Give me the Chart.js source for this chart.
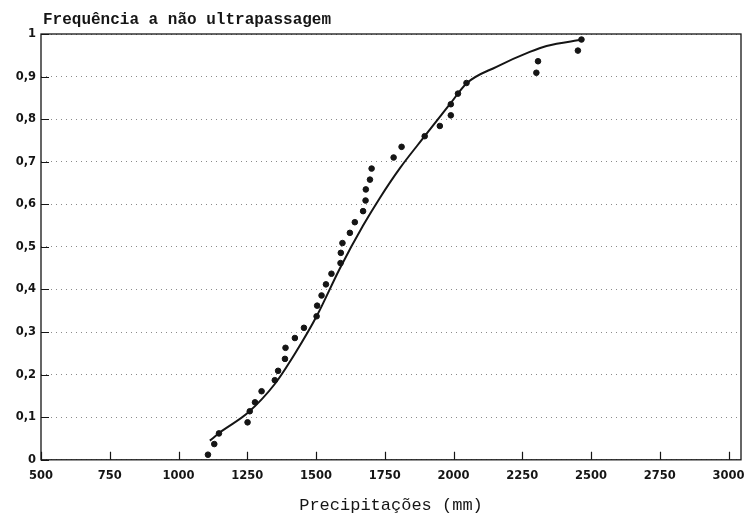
<!DOCTYPE html>
<html lang="pt">
<head>
    <meta charset="UTF-8">
    <title>Frequência a não ultrapassagem</title>
    <script src="https://cdn.jsdelivr.net/npm/chart.js"></script>
    <style>
        html, body { margin: 0; padding: 0; background: #fff; }
        #wrap { width: 750px; height: 521px; }
    </style>
</head>
<body>
    <div id="wrap"><canvas id="freqChart"></canvas></div>

    <script>
        // Observed annual precipitation (mm) and plotting frequency
        const obsPrecip = [1107, 1130, 1147, 1251, 1259, 1278, 1302, 1350, 1362, 1387,
                           1389, 1423, 1456, 1502, 1504, 1520, 1536, 1556, 1589, 1590,
                           1596, 1623, 1641, 1671, 1680, 1681, 1696, 1702, 1782, 1811,
                           1895, 1950, 1990, 1990, 2016, 2047, 2301, 2307, 2452, 2465];
        const obsFreq = [0.012, 0.037, 0.062, 0.088, 0.114, 0.135, 0.161, 0.187, 0.209, 0.237,
                         0.263, 0.286, 0.310, 0.337, 0.362, 0.386, 0.412, 0.437, 0.462, 0.486,
                         0.509, 0.533, 0.558, 0.584, 0.609, 0.635, 0.658, 0.684, 0.710, 0.735,
                         0.760, 0.784, 0.809, 0.835, 0.860, 0.885, 0.909, 0.936, 0.961, 0.987];

        // Fitted distribution curve
        const fitPrecip = [1114, 1150, 1253, 1350, 1423, 1502, 1587, 1671, 1732, 1805,
                           1895, 1990, 2047, 2156, 2277, 2338, 2470];
        const fitFreq = [0.045, 0.064, 0.111, 0.178, 0.249, 0.337, 0.450, 0.550, 0.615, 0.685,
                         0.760, 0.838, 0.884, 0.923, 0.958, 0.972, 0.987];

        // axis ticks
        const xTicks = [500, 750, 1000, 1250, 1500, 1750, 2000, 2250, 2500, 2750, 3000];
        const yTicks = [0, 0.1, 0.2, 0.3, 0.4, 0.5, 0.6, 0.7, 0.8, 0.9, 1];

        const chartTitle = 'Frequência a não ultrapassagem';
        const xTitle = 'Precipitações (mm)';

        const ink = '#151515';

        // frame, inward tick marks and the top-left title
        const frameAndTicks = {
            id: 'frameAndTicks',
            afterDraw(chart) {
                const { ctx, chartArea: a, scales: { x, y } } = chart;
                ctx.save();
                ctx.strokeStyle = ink;
                ctx.lineWidth = 1.3;
                ctx.strokeRect(a.left, a.top, a.right - a.left, a.bottom - a.top);
                ctx.lineWidth = 1.2;
                ctx.beginPath();
                x.ticks.forEach(t => {
                    const px = Math.round(x.getPixelForValue(t.value)) + 0.5;
                    ctx.moveTo(px, a.bottom);
                    ctx.lineTo(px, a.bottom - 8);
                });
                y.ticks.forEach(t => {
                    const py = Math.round(y.getPixelForValue(t.value)) + 0.5;
                    ctx.moveTo(a.left, py);
                    ctx.lineTo(a.left + 8, py);
                });
                ctx.stroke();
                ctx.fillStyle = ink;
                ctx.font = 'bold 16px "Liberation Mono"';
                ctx.textBaseline = 'alphabetic';
                ctx.fillText(chartTitle, a.left + 2, a.top - 10);
                ctx.restore();
            }
        };

        const tickFont = { family: 'DejaVu Sans', weight: 'bold', size: 11.5 };

        new Chart(document.getElementById('freqChart'), {
            type: 'scatter',
            data: {
                datasets: [{
                    label: 'Ajustamento',
                    data: fitPrecip.map((v, i) => ({ x: v, y: fitFreq[i] })),
                    showLine: true,
                    cubicInterpolationMode: 'monotone',
                    borderColor: ink,
                    borderWidth: 2,
                    pointRadius: 0,
                    fill: false
                }, {
                    label: 'Observações',
                    data: obsPrecip.map((v, i) => ({ x: v, y: obsFreq[i] })),
                    backgroundColor: ink,
                    borderColor: ink,
                    pointRadius: 2.8,
                    pointHoverRadius: 2.8
                }]
            },
            options: {
                responsive: true,
                maintainAspectRatio: false,
                animation: false,
                layout: { padding: { top: 34, right: 9, left: 0, bottom: 3 } },
                plugins: {
                    legend: { display: false },
                    tooltip: { enabled: false }
                },
                scales: {
                    x: {
                        min: 500,
                        max: 3045,
                        afterBuildTicks(scale) {
                            scale.ticks = xTicks.map(v => ({ value: v }));
                        },
                        afterFit(scale) {
                            // the 3000 label may spill past the frame, as in the original
                            scale.paddingRight = 0;
                            scale.paddingLeft = 0;
                        },
                        ticks: {
                            autoSkip: false,
                            maxRotation: 0,
                            padding: 9,
                            color: ink,
                            font: tickFont,
                            callback: v => String(v)
                        },
                        grid: { display: false, drawTicks: false },
                        border: { display: false },
                        title: {
                            display: true,
                            text: xTitle,
                            color: ink,
                            font: { family: 'Liberation Mono', size: 17 },
                            padding: { top: 4, bottom: 2 }
                        }
                    },
                    y: {
                        min: 0,
                        max: 1,
                        afterFit(scale) { scale.width = 41; },
                        afterBuildTicks(scale) {
                            scale.ticks = yTicks.map(v => ({ value: v }));
                        },
                        ticks: {
                            autoSkip: false,
                            padding: 5,
                            color: ink,
                            font: tickFont,
                            callback: v => String(v).replace('.', ',')
                        },
                        grid: { color: '#8a8a8a', lineWidth: 1, drawTicks: false },
                        border: { display: false, dash: [1, 4] }
                    }
                }
            },
            plugins: [frameAndTicks]
        });
    </script>
</body>
</html>
